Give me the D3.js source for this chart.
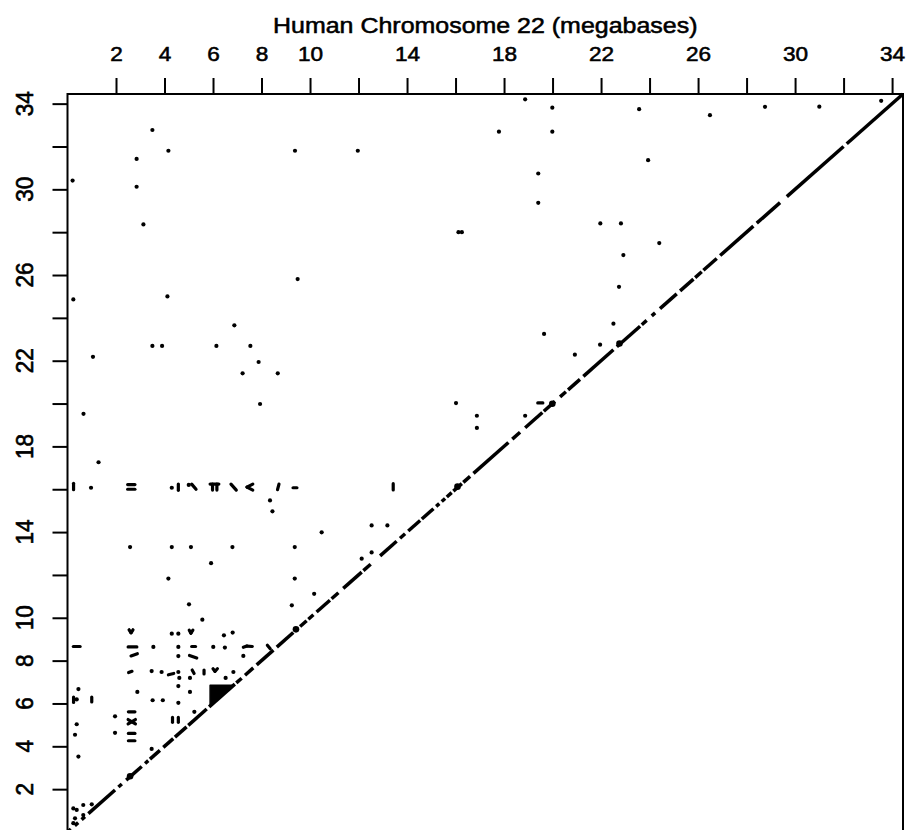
<!DOCTYPE html>
<html>
<head>
<meta charset="utf-8">
<script src="https://cdn.jsdelivr.net/npm/d3@7"></script>
<style>
  html, body { margin: 0; padding: 0; background: #fff; }
  svg { display: block; }
  text { font-family: "Liberation Sans", Arial, Helvetica, sans-serif; fill: #000; stroke: #000; stroke-width: 0.55; }
</style>
</head>
<body>
<svg id="chart" width="907" height="830"></svg>
<script>
// Self-comparison dot plot of human chromosome 22 (positions in megabases).
const chromLength = 34.45;
const tickValues = [2, 4, 6, 8, 10, 12, 14, 16, 18, 20, 22, 24, 26, 28, 30, 32, 34];
const labelledTicks = [2, 4, 6, 8, 10, 14, 18, 22, 26, 30, 34];
const axisTitle = "Human Chromosome 22 (megabases)";

// Stretches of the main diagonal (self match), start/end in Mb.
const diagonalRuns = [
  [0.00, 0.14], [0.30, 0.44], [0.58, 0.72], [0.86, 1.96], [2.10, 2.24], [2.42, 3.06],
  [3.20, 3.33], [3.40, 3.81], [3.95, 4.36], [4.43, 4.91], [4.98, 5.74], [5.84, 6.90],
  [6.96, 7.18], [7.32, 7.66], [7.80, 8.49], [8.63, 9.31], [9.59, 9.86], [9.93, 10.14],
  [10.27, 10.82], [10.89, 11.17], [11.37, 12.13], [12.20, 12.50], [12.89, 13.57],
  [13.71, 13.92], [14.05, 14.54], [14.61, 15.09], [15.20, 15.33], [15.43, 15.57],
  [15.64, 15.84], [15.91, 16.26], [16.32, 16.60], [16.74, 18.18], [18.34, 18.66],
  [18.87, 19.58], [19.64, 20.10], [20.31, 20.55], [20.64, 21.13], [21.27, 22.51],
  [22.65, 23.61], [23.68, 23.88], [24.09, 24.23], [24.43, 25.12], [25.26, 25.81],
  [25.88, 26.15], [26.22, 26.77], [26.91, 28.28], [28.42, 29.38], [29.66, 32.00],
  [32.13, 34.45]
];

// Denser knots sitting on the diagonal.
const diagonalKnots = [[2.58, 2.60], [9.42, 9.46], [16.08, 16.12], [19.99, 19.99], [22.76, 22.80]];

// Dense repeat block just above the diagonal near 6 Mb.
const repeatBlock = [[5.88, 5.88], [5.88, 6.85], [6.85, 6.85]];

// Isolated off-diagonal matches [x, y].
const matchDots = [
  [3.50, 32.77], [4.16, 31.80], [9.38, 31.80], [11.97, 31.80], [2.85, 31.42], [0.21, 30.41],
  [2.85, 30.12], [3.13, 28.36], [16.12, 28.00], [16.26, 28.00], [9.49, 25.81], [0.24, 24.86],
  [4.12, 25.00], [6.88, 23.65], [3.50, 22.69], [3.90, 22.69], [6.14, 22.69], [7.54, 22.69],
  [7.88, 21.94], [1.05, 22.18], [7.22, 21.41], [8.67, 21.41], [0.66, 19.52], [1.28, 17.26],
  [7.94, 19.98],
  [18.87, 34.20], [19.99, 33.81], [23.57, 33.74], [26.49, 33.46], [28.76, 33.85], [31.00, 33.86],
  [33.55, 34.13], [17.79, 32.69], [19.99, 32.69], [23.94, 31.36], [19.41, 30.74], [19.41, 29.37],
  [21.97, 28.41], [22.82, 28.41], [24.40, 27.49], [22.92, 26.93], [22.74, 25.45], [22.51, 23.73],
  [19.65, 23.25], [21.96, 22.75], [20.92, 22.28], [16.02, 20.02], [16.88, 19.43], [16.88, 18.86],
  [18.87, 19.43],
  [0.97, 16.07], [4.30, 16.07], [5.00, 16.20], [8.35, 15.48], [8.45, 14.97], [10.48, 13.99],
  [12.54, 14.31], [13.19, 14.31], [2.58, 13.30], [4.30, 13.30], [5.09, 13.30], [6.80, 13.30],
  [9.37, 13.30], [12.54, 13.05], [12.13, 12.76], [5.92, 12.55], [4.16, 11.83], [9.37, 11.83],
  [10.17, 11.12], [5.01, 10.63], [9.25, 10.58], [5.56, 9.91],
  [4.30, 9.26], [4.57, 9.26], [6.45, 9.18], [6.81, 9.31], [3.54, 8.64], [4.57, 8.64],
  [6.01, 8.64], [6.49, 8.61], [4.57, 8.21], [7.25, 8.22], [3.47, 7.51], [3.88, 7.47],
  [4.57, 7.47], [4.61, 7.19], [5.05, 7.19], [6.52, 7.19], [6.84, 7.47], [0.45, 6.67],
  [2.88, 6.54], [4.57, 6.81], [5.05, 6.54], [0.38, 6.19], [3.51, 6.15], [3.93, 6.15],
  [4.57, 6.03], [1.96, 5.40], [5.23, 5.61], [0.38, 5.03], [0.31, 4.54], [1.96, 4.63],
  [0.45, 3.52], [3.47, 3.88],
  [0.24, 1.10], [0.38, 1.03], [0.65, 1.26], [1.00, 1.29], [0.65, 0.79], [0.31, 0.64], [0.24, 0.41]
];

// Short off-diagonal match runs [x1, y1, x2, y2].
const matchRuns = [
  [0.25, 15.98, 0.25, 16.28], [2.48, 16.00, 2.78, 16.00], [2.48, 16.22, 2.78, 16.22],
  [4.57, 15.95, 4.57, 16.24], [5.12, 16.24, 5.30, 16.00], [5.88, 16.24, 6.24, 16.24],
  [5.98, 16.24, 5.98, 15.96], [6.16, 16.24, 6.16, 15.96], [6.74, 16.24, 6.96, 15.96],
  [7.64, 16.24, 7.40, 16.10], [7.40, 16.10, 7.64, 15.96], [8.72, 16.24, 8.66, 15.98],
  [9.30, 16.07, 9.46, 16.07], [13.43, 15.97, 13.43, 16.26], [19.39, 20.03, 19.60, 20.03],
  [2.54, 9.44, 2.62, 9.30], [2.62, 9.30, 2.70, 9.44], [5.02, 9.42, 5.09, 9.28], [5.09, 9.28, 5.17, 9.42],
  [0.24, 8.66, 0.52, 8.66], [2.50, 8.64, 2.86, 8.64], [5.12, 8.66, 5.28, 8.66],
  [7.25, 8.62, 7.40, 8.68], [7.40, 8.68, 7.62, 8.66], [8.24, 8.72, 8.36, 8.55],
  [2.62, 8.22, 2.88, 8.32], [5.03, 8.24, 5.33, 8.12],
  [2.52, 7.44, 2.66, 7.50], [4.16, 7.34, 4.38, 7.40], [5.14, 7.56, 5.22, 7.40],
  [5.63, 7.56, 5.63, 7.38], [6.00, 7.62, 6.08, 7.50], [6.08, 7.50, 6.18, 7.62],
  [0.25, 6.05, 0.25, 6.30], [1.00, 6.07, 1.00, 6.30],
  [2.51, 5.61, 2.78, 5.61], [2.50, 5.25, 2.80, 5.05], [2.50, 5.05, 2.80, 5.25],
  [4.33, 5.12, 4.33, 5.35], [4.57, 5.12, 4.57, 5.35],
  [2.51, 4.60, 2.78, 4.60], [2.51, 4.26, 2.78, 4.26]
];

const svg = d3.select("#chart");
const x = d3.scaleLinear().domain([0, chromLength]).range([67.5, 903]);
const y = d3.scaleLinear().domain([0, chromLength]).range([832, 94]);
const ink = "#000";
const stretch = 1.13;   // glyphs are a little wider than tall

// Frame (bottom edge falls just below the visible area).
svg.append("rect")
  .attr("x", x(0)).attr("y", y(chromLength))
  .attr("width", x(chromLength) - x(0)).attr("height", y(0) - y(chromLength))
  .attr("fill", "none").attr("stroke", ink).attr("stroke-width", 2);

// Top axis
const topAxis = svg.append("g")
  .attr("transform", `translate(0,${y(chromLength)})`)
  .call(d3.axisTop(x).tickValues(tickValues).tickSize(16).tickSizeOuter(0).tickPadding(17)
    .tickFormat(d => labelledTicks.includes(d) ? d : ""));
topAxis.select(".domain").remove();
topAxis.selectAll(".tick line").attr("stroke", ink).attr("stroke-width", 2);
topAxis.selectAll(".tick text")
  .attr("font-size", 20).attr("font-family", null).attr("fill", null)
  .attr("transform", `scale(${stretch},1)`);

// Left axis
const leftAxis = svg.append("g")
  .attr("transform", `translate(${x(0)},0)`)
  .call(d3.axisLeft(y).tickValues(tickValues).tickSize(15).tickSizeOuter(0).tickFormat(""));
leftAxis.select(".domain").remove();
leftAxis.selectAll(".tick line").attr("stroke", ink).attr("stroke-width", 2);

svg.append("g").selectAll("text")
  .data(labelledTicks)
  .join("text")
  .attr("transform", d => `translate(33,${y(d)}) rotate(-90) scale(1.1,${stretch})`)
  .attr("text-anchor", "middle")
  .attr("font-size", 20.5)
  .text(d => d);

// Axis title
svg.append("text")
  .attr("transform", `translate(${(x(0) + x(chromLength)) / 2},33) scale(1.11,1)`)
  .attr("text-anchor", "middle")
  .attr("font-size", 22.5)
  .text(axisTitle);

const plot = svg.append("g");

// Diagonal
plot.selectAll("line.diag")
  .data(diagonalRuns)
  .join("line")
  .attr("class", "diag")
  .attr("x1", d => x(d[0])).attr("y1", d => y(d[0]))
  .attr("x2", d => x(d[1])).attr("y2", d => y(d[1]))
  .attr("stroke", ink).attr("stroke-width", 3.5).attr("stroke-linecap", "butt");

plot.selectAll("circle.knot")
  .data(diagonalKnots)
  .join("circle")
  .attr("class", "knot")
  .attr("cx", d => x(d[0])).attr("cy", d => y(d[1]))
  .attr("r", 3.3).attr("fill", ink);

plot.append("path")
  .datum(repeatBlock)
  .attr("d", d3.line().x(d => x(d[0])).y(d => y(d[1])).curve(d3.curveLinearClosed))
  .attr("fill", ink).attr("stroke", ink).attr("stroke-width", 1.5).attr("stroke-linejoin", "round");

plot.selectAll("line.run")
  .data(matchRuns)
  .join("line")
  .attr("class", "run")
  .attr("x1", d => x(d[0])).attr("y1", d => y(d[1]))
  .attr("x2", d => x(d[2])).attr("y2", d => y(d[3]))
  .attr("stroke", ink).attr("stroke-width", 3.2).attr("stroke-linecap", "round");

plot.selectAll("circle.dot")
  .data(matchDots)
  .join("circle")
  .attr("class", "dot")
  .attr("cx", d => x(d[0])).attr("cy", d => y(d[1]))
  .attr("r", 2.1).attr("fill", ink);
</script>
</body>
</html>
